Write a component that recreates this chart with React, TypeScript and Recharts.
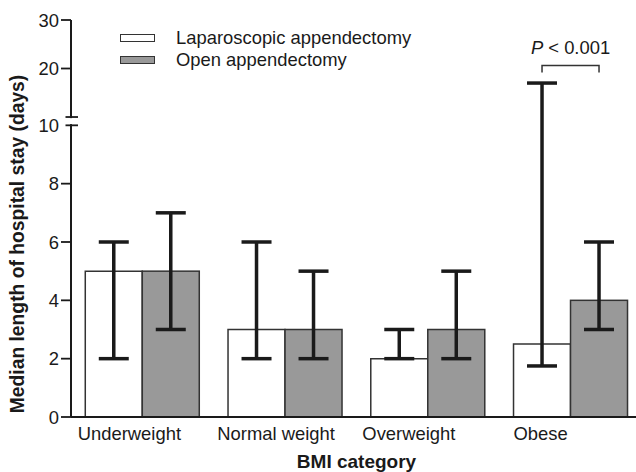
import React from 'react';
import { BarChart, Bar, XAxis, YAxis, ErrorBar, Legend } from 'recharts';

// ---------- data ----------
const categories = ['Underweight', 'Normal weight', 'Overweight', 'Obese'];
const lapMedian = [5, 3, 2, 2.5];
const lapLow = [2, 2, 2, 1.75];
const lapHigh = [6, 6, 3, 17];
const openMedian = [5, 3, 3, 4];
const openLow = [3, 2, 2, 3];
const openHigh = [7, 5, 5, 6];
const yTickValues = [0, 2, 4, 6, 8, 10, 20, 30];
const seriesNames = ['Laparoscopic appendectomy', 'Open appendectomy'];
const significance = { category: 'Obese', level: 20.6, prefix: 'P', text: ' < 0.001' };

// ---------- broken axis scale ----------
const BREAK_AT = 10;
const BREAK_GAP = 0.285;
const UPPER_RATIO = 0.1663;
const toDisplay = (v: number) =>
  v <= BREAK_AT ? v : BREAK_AT + BREAK_GAP + (v - BREAK_AT) * UPPER_RATIO;

const FONT = '"Liberation Sans", Arial, Helvetica, sans-serif';
const INK = '#1a1a1a';
const EDGE = '#333333';
const FILLS = ['#ffffff', '#999999'];
const X_LABEL_DX = [-13, -9, -19, -30];

const data = categories.map((c, i) => {
  const lm = toDisplay(lapMedian[i]);
  const om = toDisplay(openMedian[i]);
  return {
    category: c,
    lap: lm,
    lapErr: [lm - toDisplay(lapLow[i]), toDisplay(lapHigh[i]) - lm],
    open: om,
    openErr: [om - toDisplay(openLow[i]), toDisplay(openHigh[i]) - om],
  };
});

type TickInfo = { value: number; label: string; kind: string };
const yTicks: TickInfo[] = [];
yTickValues.forEach((v) => {
  yTicks.push({ value: toDisplay(v), label: String(v), kind: v === BREAK_AT ? 'breakLow' : 'normal' });
  if (v === BREAK_AT) yTicks.push({ value: BREAK_AT + BREAK_GAP, label: '', kind: 'breakHigh' });
});

const YTick = (props: any) => {
  const { x, y, payload } = props;
  const info = yTicks.find((t) => Math.abs(t.value - payload.value) < 1e-6);
  if (!info) return null;
  const ax = x + 12;
  return (
    <g>
      {info.kind === 'breakLow' && (
        <rect x={ax - 4} y={y - 7.2} width={8} height={6} fill="#ffffff" />
      )}
      {info.kind === 'normal' ? (
        <line x1={ax - 10} x2={ax} y1={y} y2={y} stroke={INK} strokeWidth={1.8} />
      ) : (
        <line x1={ax - 5.5} x2={ax + 7} y1={y} y2={y} stroke={INK} strokeWidth={1.8} />
      )}
      {info.label && (
        <text x={x} y={y} dy="0.355em" textAnchor="end" fontFamily={FONT} fontSize={18.4} fill={INK}>
          {info.label}
        </text>
      )}
    </g>
  );
};

const XTick = (props: any) => {
  const { x, y, payload, index } = props;
  return (
    <text
      x={x + (X_LABEL_DX[index] || 0)}
      y={y}
      dy="0.71em"
      textAnchor="middle"
      fontFamily={FONT}
      fontSize={18.4}
      fill={INK}
    >
      {payload.value}
    </text>
  );
};

const XTitle = (props: any) => {
  const vb = props.viewBox || { x: 71, y: 417, width: 571, height: 55 };
  return (
    <text
      x={vb.x + vb.width / 2}
      y={vb.y + 51}
      textAnchor="middle"
      fontFamily={FONT}
      fontSize={19}
      fontWeight="bold"
      fill={INK}
    >
      BMI category
    </text>
  );
};

const YTitle = () => (
  <text
    x={24}
    y={244}
    transform="rotate(-90, 24, 244)"
    textAnchor="middle"
    fontFamily={FONT}
    fontSize={19.3}
    fontWeight="bold"
    fill={INK}
  >
    Median length of hospital stay (days)
  </text>
);

const OpenShape = (props: any) => {
  const { x, y, width, height, index, payload } = props;
  const cat = (payload && payload.category) || categories[index];
  const parts: any[] = [
    <rect key="r" x={x} y={y} width={width} height={height} fill={FILLS[1]} stroke={EDGE} strokeWidth={1.5} />,
  ];
  if (cat === significance.category && payload && payload.open > 0) {
    const ppu = height / payload.open;
    const base = y + height;
    const by = base - toDisplay(significance.level) * ppu;
    const x1 = x - width / 2;
    const x2 = x + width / 2;
    parts.push(
      <path
        key="b"
        d={`M${x1},${by + 7} V${by} H${x2} V${by + 7}`}
        fill="none"
        stroke={EDGE}
        strokeWidth={1.5}
      />
    );
    parts.push(
      <text key="t" x={x} y={by - 11.7} textAnchor="middle" fontFamily={FONT} fontSize={18.4} fill={INK}>
        <tspan fontStyle="italic">{significance.prefix}</tspan>
        {significance.text}
      </text>
    );
  }
  return <g>{parts}</g>;
};

const LegendBox = () => (
  <div style={{ fontFamily: FONT, fontSize: 18.4, color: INK }}>
    {seriesNames.map((n, i) => (
      <div key={n} style={{ display: 'flex', alignItems: 'center', height: 22, whiteSpace: 'nowrap' }}>
        <span
          style={{
            display: 'inline-block',
            width: 33,
            height: 6,
            border: `1.5px solid ${EDGE}`,
            background: FILLS[i],
            marginRight: 21,
          }}
        />
        <span>{n}</span>
      </div>
    ))}
  </div>
);

export default function App() {
  return (
    <div
      style={{
        position: 'absolute',
        left: 0,
        top: 0,
        width: 636,
        height: 472,
        overflow: 'hidden',
        background: '#ffffff',
      }}
    >
      <BarChart
        width={642}
        height={472}
        data={data}
        margin={{ top: 20, right: 0, bottom: 0, left: 0 }}
        barGap={0}
        barCategoryGap="10%"
      >
        <XAxis
          dataKey="category"
          height={55}
          tickLine={false}
          tickSize={0}
          tickMargin={9.5}
          axisLine={{ stroke: INK, strokeWidth: 2 }}
          tick={<XTick />}
          interval={0}
          label={<XTitle />}
        />
        <YAxis
          type="number"
          width={71}
          domain={[0, toDisplay(30)]}
          allowDataOverflow
          ticks={yTicks.map((t) => t.value)}
          interval={0}
          tickLine={false}
          tickSize={10}
          tickMargin={2}
          axisLine={{ stroke: INK, strokeWidth: 2 }}
          tick={<YTick />}
          label={<YTitle />}
        />
        <Legend
          layout="horizontal"
          verticalAlign="middle"
          align="center"
          wrapperStyle={{ position: 'absolute', left: 120, top: 27, width: 'auto', height: 'auto' }}
          content={() => <LegendBox />}
        />
        <Bar dataKey="lap" name={seriesNames[0]} fill={FILLS[0]} stroke={EDGE} strokeWidth={1.5} isAnimationActive={false}>
          <ErrorBar dataKey="lapErr" width={15} stroke={INK} strokeWidth={3.5} />
        </Bar>
        <Bar
          dataKey="open"
          name={seriesNames[1]}
          fill={FILLS[1]}
          stroke={EDGE}
          strokeWidth={1.5}
          isAnimationActive={false}
          shape={<OpenShape />}
        >
          <ErrorBar dataKey="openErr" width={15} stroke={INK} strokeWidth={3.5} />
        </Bar>
      </BarChart>
    </div>
  );
}
